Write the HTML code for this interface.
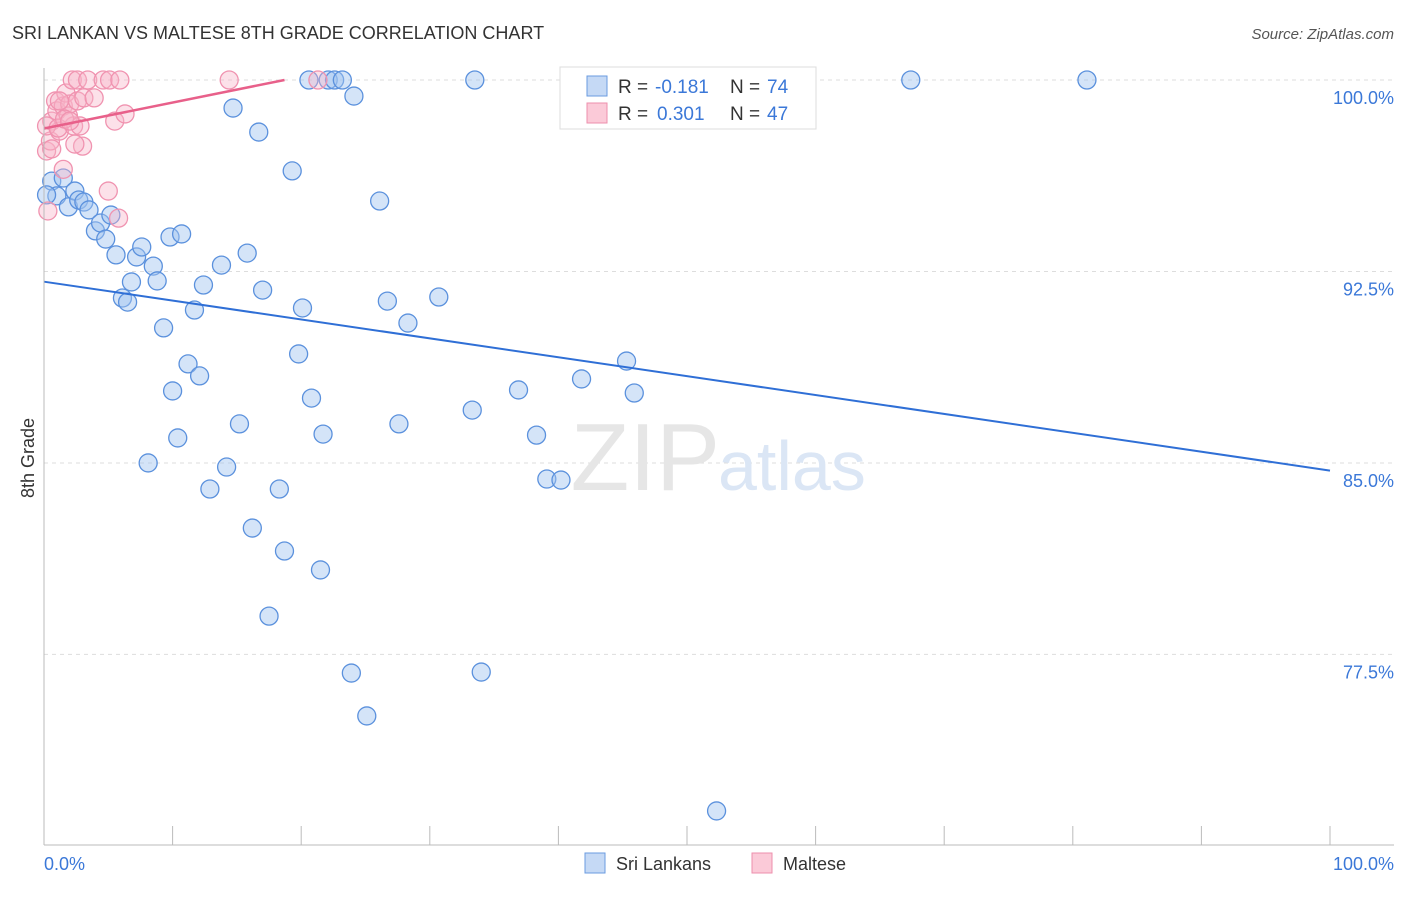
<!DOCTYPE html>
<html><head><meta charset="utf-8"><style>
body{margin:0;background:#fff;font-family:"Liberation Sans",sans-serif;}
svg text{font-family:"Liberation Sans",sans-serif;}
</style></head><body>
<svg id="chart" width="1406" height="892">
<text x="12" y="39" font-size="18" fill="#333">SRI LANKAN VS MALTESE 8TH GRADE CORRELATION CHART</text>
<text x="1394" y="39" font-size="15" fill="#555" font-style="italic" text-anchor="end">Source: ZipAtlas.com</text>
<text x="34" y="458" font-size="18" fill="#333" transform="rotate(-90 34 458)" text-anchor="middle">8th Grade</text>
<g id="grid"></g>
<text x="720" y="490" font-size="96" fill="#e6e6e6" text-anchor="end" font-family="Liberation Serif">ZIP</text>
<text x="718" y="490" font-size="70" fill="#dbe6f5">atlas</text>
<g id="pts"></g>
<g id="lines"></g>
<line x1="44" y1="68" x2="44" y2="845" stroke="#bbb"/>
<line x1="44" y1="845" x2="1394" y2="845" stroke="#bbb"/>
<text x="44" y="870" font-size="18" fill="#3b78d8">0.0%</text>
<text x="1394" y="870" font-size="18" fill="#3b78d8" text-anchor="end">100.0%</text>
<g>
<rect x="560" y="67" width="256" height="62" fill="#fff" stroke="#ddd"/>
<rect x="587" y="76" width="20" height="20" fill="#c5d9f5" stroke="#6a9be0"/>
<rect x="587" y="103" width="20" height="20" fill="#fbcad8" stroke="#ee8fac"/>
<text x="618" y="93" font-size="19" fill="#333">R =</text>
<text x="655" y="93" font-size="19" fill="#3b78d8">-0.181</text>
<text x="730" y="93" font-size="19" fill="#333">N =</text>
<text x="767" y="93" font-size="19" fill="#3b78d8">74</text>
<text x="618" y="120" font-size="19" fill="#333">R =</text>
<text x="657" y="120" font-size="19" fill="#3b78d8">0.301</text>
<text x="730" y="120" font-size="19" fill="#333">N =</text>
<text x="767" y="120" font-size="19" fill="#3b78d8">47</text>
</g>
<g>
<rect x="585" y="853" width="20" height="20" fill="#c5d9f5" stroke="#6a9be0"/>
<text x="616" y="870" font-size="18" fill="#333">Sri Lankans</text>
<rect x="752" y="853" width="20" height="20" fill="#fbcad8" stroke="#ee8fac"/>
<text x="783" y="870" font-size="18" fill="#333">Maltese</text>
</g>
</svg>
<script>
const yTicks=[100,92.5,85,77.5];
const yTickLabels=["100.0%","92.5%","85.0%","77.5%"];
const xTicks=[0,10,20,30,40,50,60,70,80,90,100];
const blueX=[0.6,1.0,1.5,1.9,2.4,2.7,3.1,3.5,4.0,4.4,4.8,5.2,5.6,6.1,6.5,6.8,7.2,7.6,8.1,8.5,8.8,9.3,9.8,10.0,10.4,10.7,11.2,11.7,12.1,12.4,12.9,13.8,14.2,14.7,15.2,15.8,16.2,16.7,17.0,17.5,18.3,18.7,19.3,19.8,20.1,20.6,20.8,21.5,21.7,22.1,22.6,23.2,23.9,24.1,25.1,26.1,26.7,27.6,28.3,30.7,33.3,33.5,34.0,36.9,38.3,39.1,40.2,41.8,45.3,45.9,52.3,67.4,81.1,0.2];
const blueY=[96.04,95.46,96.16,95.03,95.65,95.30,95.22,94.91,94.09,94.40,93.77,94.71,93.15,91.46,91.30,92.09,93.07,93.46,85.0,92.71,92.13,90.29,93.85,87.82,85.98,93.97,88.88,90.99,88.41,91.97,83.98,92.75,84.84,98.90,86.53,93.22,82.45,97.96,91.77,79.0,83.98,81.55,96.44,89.27,91.07,100,87.54,80.81,86.13,100,100,100,76.77,99.37,75.09,95.26,91.34,86.53,90.48,91.50,87.07,100,76.81,87.86,86.09,84.37,84.33,88.29,88.99,87.74,71.37,100,100,95.5];
const pinkX=[0.3,0.2,0.5,0.6,0.9,1.0,1.2,1.5,1.7,1.9,2.0,2.2,2.3,2.6,2.6,2.8,3.0,3.1,3.4,3.9,4.6,5.0,5.1,5.5,5.8,5.9,6.3,14.4,21.3,0.2,0.6,1.1,1.5,1.6,2.0,2.4,1.2];
const pinkY=[94.87,97.22,97.61,98.39,99.18,98.79,98.0,98.98,99.49,98.59,99.06,100,98.2,100,99.18,98.2,97.41,99.3,100,99.3,100,95.65,100,98.39,94.59,100,98.67,100,100,98.2,97.3,98.12,96.5,98.47,98.39,97.49,99.18];
const blueTrend=[92.1,84.7];
const pinkTrend=[98.1,100];
const NS="http://www.w3.org/2000/svg";
const xs=v=>44+v*12.86, ys=v=>80+(100-v)*25.53;
function mk(tag,attrs,parent){const e=document.createElementNS(NS,tag);for(const k in attrs)e.setAttribute(k,attrs[k]);parent.appendChild(e);return e;}
const grid=document.getElementById('grid');
yTicks.forEach((t,i)=>{
 const l=mk('line',{x1:44,x2:1394,y1:ys(t),y2:ys(t),stroke:'#ddd','stroke-dasharray':'4,4'},grid);
 
 
 const tx=mk('text',{x:1394,y:ys(t)+24,'font-size':18,fill:'#3b78d8','text-anchor':'end'},grid);
 tx.textContent=yTickLabels[i];
 
 
});
xTicks.forEach(t=>{
 const l=mk('line',{x1:xs(t),x2:xs(t),y1:826,y2:845,stroke:'#bbb'},grid);
 
 
});
const pts=document.getElementById('pts');
blueX.forEach((x,i)=>{
 const c=mk('circle',{cx:xs(x),cy:ys(blueY[i]),r:9,fill:'rgba(160,195,240,0.45)',stroke:'#5b91dd','stroke-width':1.3},pts);
 
 
});
pinkX.forEach((x,i)=>{
 const c=mk('circle',{cx:xs(x),cy:ys(pinkY[i]),r:9,fill:'rgba(248,180,200,0.4)',stroke:'#f093b0','stroke-width':1.3},pts);
 
 
});
const lines=document.getElementById('lines');
const bl=mk('line',{x1:xs(0),y1:ys(blueTrend[0]),x2:xs(100),y2:ys(blueTrend[1]),stroke:'#2f6fd6','stroke-width':2},lines);


const pl=mk('line',{x1:xs(0),y1:ys(pinkTrend[0]),x2:xs(18.7),y2:ys(pinkTrend[1]),stroke:'#e8608a','stroke-width':2.5},lines);


</script>
</body></html>
